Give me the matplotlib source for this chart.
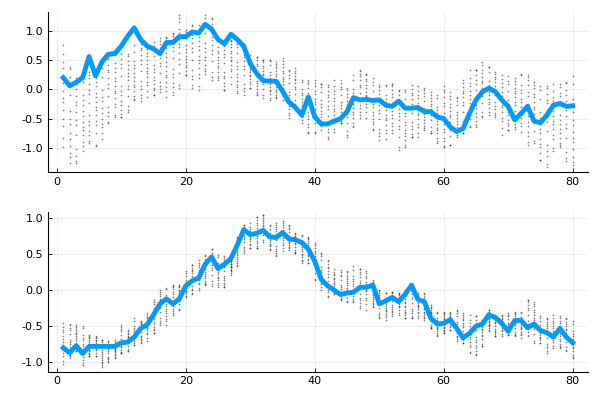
import numpy as np
import matplotlib
matplotlib.use('Agg')
import matplotlib.pyplot as plt

x = np.arange(1, 81)

# top panel: line and scatter band (lowest / highest dot per x)
top_line = [0.20, 0.06, 0.12, 0.20, 0.56, 0.23, 0.47, 0.60, 0.61, 0.74,
            0.91, 1.05, 0.85, 0.74, 0.69, 0.61, 0.80, 0.80, 0.90, 0.90,
            0.98, 0.96, 1.11, 1.03, 0.85, 0.78, 0.94, 0.85, 0.73, 0.44,
            0.27, 0.15, 0.14, 0.14, -0.03, -0.22, -0.31, -0.44, -0.13, -0.47,
            -0.59, -0.59, -0.54, -0.50, -0.38, -0.14, -0.18, -0.17, -0.19, -0.18,
            -0.27, -0.29, -0.20, -0.32, -0.32, -0.31, -0.38, -0.38, -0.47, -0.50,
            -0.64, -0.72, -0.67, -0.41, -0.18, -0.04, 0.02, -0.04, -0.18, -0.29,
            -0.52, -0.41, -0.29, -0.54, -0.57, -0.44, -0.27, -0.24, -0.29, -0.28]
top_hi = [0.75, 0.39, 0.20, 0.19, 0.30, 0.20, 0.47, 0.56, 0.59, 0.61,
          0.61, 0.75, 0.81, 0.73, 0.81, 0.87, 0.90, 0.96, 1.27, 1.01,
          1.10, 1.10, 1.27, 1.21, 0.90, 0.84, 0.84, 0.81, 0.78, 0.59,
          0.56, 0.50, 0.50, 0.47, 0.53, 0.33, 0.36, 0.16, 0.16, 0.16,
          0.10, 0.07, 0.16, 0.16, 0.02, 0.24, 0.33, 0.27, 0.19, 0.07,
          0.07, 0.10, -0.01, -0.01, 0.07, 0.05, 0.02, -0.04, -0.10, 0.05,
          -0.04, -0.13, 0.16, 0.33, 0.33, 0.47, 0.39, 0.30, 0.24, 0.22,
          0.19, 0.27, 0.24, 0.13, 0.06, 0.05, 0.10, 0.10, 0.13, 0.22]
top_lo = [-0.98, -1.25, -1.25, -1.05, -0.91, -0.96, -0.84, -0.58, -0.47, -0.47,
          -0.38, -0.18, -0.20, -0.13, -0.10, -0.04, -0.13, -0.10, 0.02, 0.24,
          0.02, -0.01, 0.27, 0.16, 0.16, -0.01, 0.10, -0.07, -0.10, 0.02,
          -0.10, -0.15, -0.18, -0.15, -0.18, -0.49, -0.30, -0.58, -0.75, -0.75,
          -0.69, -0.84, -0.72, -0.58, -0.81, -0.64, -0.49, -0.49, -0.69, -0.86,
          -0.84, -0.75, -1.04, -0.98, -0.81, -0.81, -0.69, -0.75, -0.92, -0.98,
          -0.95, -0.81, -0.75, -0.64, -0.64, -0.47, -0.44, -0.47, -0.78, -0.69,
          -0.67, -0.72, -0.95, -0.92, -1.21, -1.32, -1.06, -0.98, -1.23, -1.29]

# bottom panel
bot_line = [-0.80, -0.87, -0.77, -0.88, -0.78, -0.78, -0.78, -0.78, -0.78, -0.73,
            -0.72, -0.65, -0.53, -0.48, -0.34, -0.19, -0.12, -0.19, -0.12, 0.06,
            0.13, 0.17, 0.36, 0.46, 0.30, 0.36, 0.44, 0.63, 0.84, 0.77,
            0.79, 0.83, 0.74, 0.73, 0.80, 0.71, 0.70, 0.66, 0.57, 0.40,
            0.15, 0.06, 0.00, -0.06, -0.04, -0.03, 0.04, 0.04, 0.07, -0.19,
            -0.15, -0.10, -0.16, -0.06, 0.07, -0.13, -0.16, -0.39, -0.47, -0.46,
            -0.41, -0.53, -0.66, -0.60, -0.50, -0.47, -0.34, -0.38, -0.46, -0.57,
            -0.42, -0.42, -0.52, -0.47, -0.56, -0.59, -0.65, -0.53, -0.65, -0.73]
bot_hi = [-0.46, -0.47, -0.49, -0.50, -0.62, -0.63, -0.69, -0.71, -0.69, -0.48,
          -0.55, -0.39, -0.43, -0.32, -0.13, 0.00, 0.03, 0.07, 0.07, 0.26,
          0.35, 0.42, 0.49, 0.57, 0.49, 0.47, 0.42, 0.74, 0.90, 0.93,
          1.02, 1.04, 0.90, 0.93, 0.96, 0.90, 0.79, 0.77, 0.74, 0.65,
          0.51, 0.42, 0.30, 0.28, 0.26, 0.33, 0.30, 0.26, 0.14, 0.00,
          -0.04, -0.02, -0.04, 0.00, 0.07, -0.04, -0.04, -0.20, -0.30, -0.30,
          -0.30, -0.27, -0.32, -0.34, -0.36, -0.41, -0.27, -0.34, -0.34, -0.32,
          -0.30, -0.30, -0.13, -0.16, -0.36, -0.39, -0.34, -0.36, -0.39, -0.43]
bot_lo = [-1.03, -0.94, -0.85, -1.04, -0.92, -0.92, -1.06, -0.99, -0.94, -0.87,
          -0.85, -0.76, -0.73, -0.71, -0.60, -0.48, -0.48, -0.34, -0.27, -0.09,
          -0.06, 0.00, 0.07, 0.06, 0.05, 0.04, 0.21, 0.33, 0.51, 0.58,
          0.58, 0.67, 0.56, 0.47, 0.54, 0.56, 0.51, 0.37, 0.37, 0.14,
          0.00, -0.09, -0.06, -0.13, -0.16, -0.16, -0.25, -0.27, -0.23, -0.39,
          -0.41, -0.36, -0.34, -0.39, -0.39, -0.39, -0.41, -0.53, -0.64, -0.60,
          -0.55, -0.71, -0.73, -0.87, -0.90, -0.78, -0.57, -0.64, -0.64, -0.62,
          -0.64, -0.66, -0.64, -0.73, -0.73, -0.87, -0.80, -0.80, -0.85, -0.94]

# where the dots sit inside each band (0 = lowest, 1 = highest)
dot_pos = [0.0, 0.09, 0.21, 0.27, 0.36, 0.44, 0.48, 0.55, 0.63, 0.69,
           0.78, 0.84, 0.92, 1.0]


def band_dots(lo, hi):
    xs, ys = [], []
    for i in range(len(x)):
        for k, f in enumerate(dot_pos):
            if 0 < k < len(dot_pos) - 1:
                f = (f + 0.618 * i) % 1.0
            xs.append(x[i])
            ys.append(lo[i] + f * (hi[i] - lo[i]))
    return xs, ys


fig = plt.figure(figsize=(6, 4), dpi=100)
ax1 = fig.add_axes([0.08, 0.57, 0.90, 0.40])
ax2 = fig.add_axes([0.08, 0.071, 0.90, 0.40])

panels = [(ax1, top_line, top_lo, top_hi, (-1.41, 1.32)),
          (ax2, bot_line, bot_lo, bot_hi, (-1.13, 1.09))]
for ax, line, lo, hi, yl in panels:
    dx, dy = band_dots(lo, hi)
    ax.scatter(dx, dy, s=1.5, c='black', alpha=0.5, linewidths=0, zorder=2)
    ax.plot(x, line, color='#009AFA', lw=3.5, zorder=3, solid_joinstyle='round')
    ax.set_xlim(-1.37, 82.37)
    ax.set_ylim(*yl)
    ax.set_xticks([0, 20, 40, 60, 80])
    ax.set_yticks([-1.0, -0.5, 0.0, 0.5, 1.0])
    ax.set_yticklabels(['-1.0', '-0.5', '0.0', '0.5', '1.0'])
    ax.grid(True, color='black', alpha=0.08, lw=0.6)
    ax.set_axisbelow(True)
    for s in ['top', 'right']:
        ax.spines[s].set_visible(False)
    ax.tick_params(labelsize=8, direction='in', length=3, width=0.6)

fig.savefig('out.png', dpi=100)
